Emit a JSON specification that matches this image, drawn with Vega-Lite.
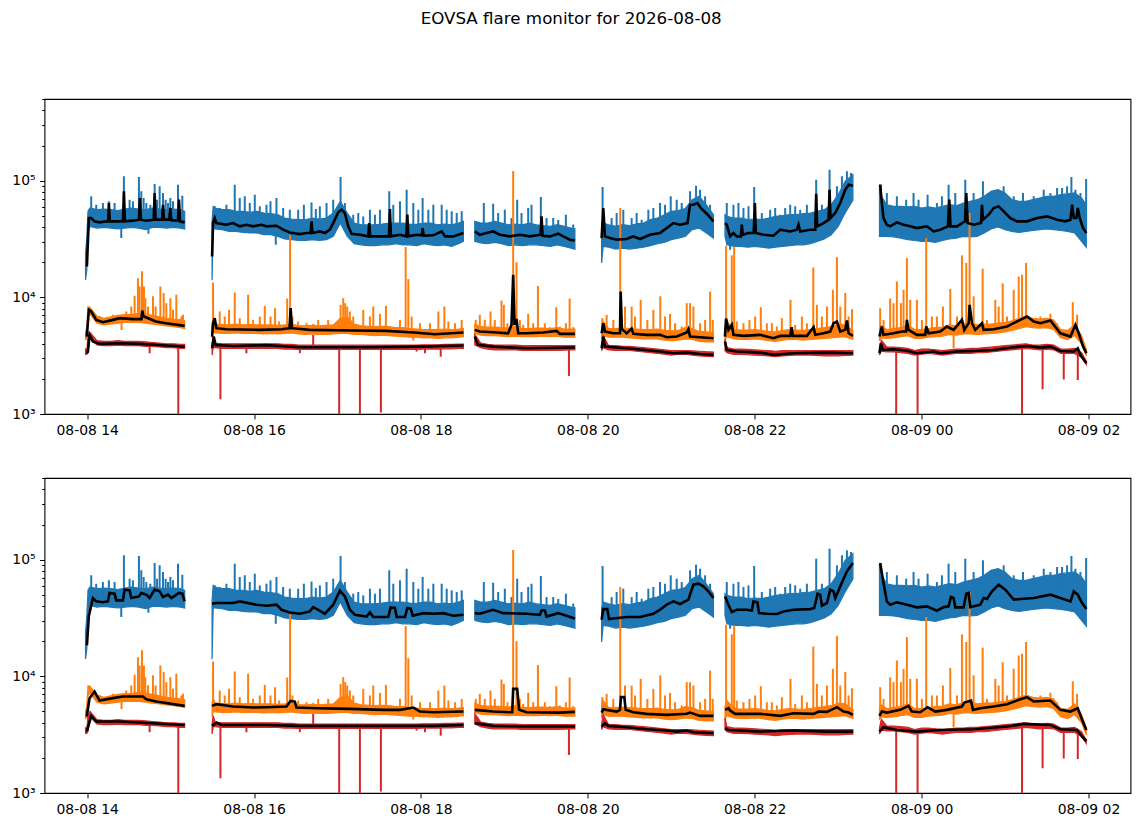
{
  "$schema": "https://vega.github.io/schema/vega-lite/v6.json",
  "padding": {"left": 10.5, "top": 10, "right": 10, "bottom": 5},
  "title": {"text": "EOVSA flare monitor for 2026-08-08", "font": "DejaVu Sans", "fontSize": 16.7, "fontWeight": "normal", "color": "black", "anchor": "middle", "frame": "bounds", "offset": 64},
  "config": {"view": {"stroke": "black", "strokeWidth": 1.1}, "font": "DejaVu Sans"},
  "spacing": 31,
  "datasets": {
    "band": [
      {"t":-1.2,"g":1,"bl":14100,"bh":24000,"ol":4300,"oh":5000,"rl":3250,"rh":3600},
      {"t":-0.3,"g":1,"bl":17000,"bh":32000,"ol":4500,"oh":5500,"rl":3250,"rh":3500},
      {"t":0.6,"g":1,"bl":36000,"bh":55000,"ol":6800,"oh":8300,"rl":3400,"rh":4600},
      {"t":2,"g":1,"bl":40600,"bh":58300,"ol":7200,"oh":8200,"rl":4500,"rh":5000},
      {"t":7,"g":1,"bl":39200,"bh":56400,"ol":6000,"oh":6900,"rl":3900,"rh":4250},
      {"t":12,"g":1,"bl":39800,"bh":57100,"ol":5800,"oh":6600,"rl":3850,"rh":4200},
      {"t":17,"g":1,"bl":39200,"bh":56400,"ol":5900,"oh":6800,"rl":3850,"rh":4200},
      {"t":22,"g":1,"bl":38500,"bh":55300,"ol":6000,"oh":7000,"rl":3900,"rh":4250},
      {"t":27,"g":1,"bl":39200,"bh":57100,"ol":6100,"oh":7100,"rl":3850,"rh":4200},
      {"t":32,"g":1,"bl":39800,"bh":58300,"ol":6100,"oh":7100,"rl":3850,"rh":4200},
      {"t":37,"g":1,"bl":39200,"bh":57100,"ol":6100,"oh":7300,"rl":3850,"rh":4200},
      {"t":42,"g":1,"bl":38000,"bh":56400,"ol":6000,"oh":7200,"rl":3800,"rh":4150},
      {"t":47,"g":1,"bl":39800,"bh":58300,"ol":5900,"oh":7000,"rl":3800,"rh":4100},
      {"t":52,"g":1,"bl":39800,"bh":57100,"ol":5800,"oh":6800,"rl":3750,"rh":4050},
      {"t":57,"g":1,"bl":39200,"bh":56400,"ol":5700,"oh":6600,"rl":3700,"rh":4000},
      {"t":62,"g":1,"bl":39800,"bh":57100,"ol":5600,"oh":6500,"rl":3700,"rh":4000},
      {"t":67,"g":1,"bl":39200,"bh":56400,"ol":5500,"oh":6400,"rl":3650,"rh":3950},
      {"t":70.1,"g":1,"bl":38500,"bh":54600,"ol":5400,"oh":6300,"rl":3650,"rh":3950},
      {"t":89.8,"g":2,"bl":14000,"bh":45000,"ol":4500,"oh":6000,"rl":3200,"rh":3900},
      {"t":90.6,"g":2,"bl":38500,"bh":60200,"ol":5000,"oh":6500,"rl":3700,"rh":4600},
      {"t":92,"g":2,"bl":38500,"bh":58300,"ol":4950,"oh":5900,"rl":3700,"rh":4050},
      {"t":97,"g":2,"bl":38000,"bh":56400,"ol":4900,"oh":5850,"rl":3650,"rh":4000},
      {"t":102,"g":2,"bl":36700,"bh":56400,"ol":4900,"oh":5800,"rl":3650,"rh":4000},
      {"t":107,"g":2,"bl":36700,"bh":54600,"ol":4950,"oh":5900,"rl":3650,"rh":4000},
      {"t":112,"g":2,"bl":36000,"bh":54600,"ol":4900,"oh":5800,"rl":3650,"rh":4000},
      {"t":117,"g":2,"bl":35600,"bh":53500,"ol":4900,"oh":5850,"rl":3650,"rh":4000},
      {"t":122,"g":2,"bl":35600,"bh":54600,"ol":4900,"oh":5800,"rl":3650,"rh":4000},
      {"t":127,"g":2,"bl":34400,"bh":52800,"ol":4850,"oh":5800,"rl":3650,"rh":4000},
      {"t":132,"g":2,"bl":34400,"bh":52100,"ol":4900,"oh":5800,"rl":3650,"rh":4000},
      {"t":137,"g":2,"bl":33300,"bh":51100,"ol":4850,"oh":5750,"rl":3650,"rh":4000},
      {"t":142,"g":2,"bl":31600,"bh":47800,"ol":4900,"oh":5800,"rl":3600,"rh":3950},
      {"t":147,"g":2,"bl":31200,"bh":46900,"ol":4950,"oh":5900,"rl":3600,"rh":3950},
      {"t":152,"g":2,"bl":30700,"bh":46300,"ol":4850,"oh":5700,"rl":3580,"rh":3900},
      {"t":157,"g":2,"bl":30700,"bh":46300,"ol":4800,"oh":5700,"rl":3580,"rh":3900},
      {"t":162,"g":2,"bl":31200,"bh":47800,"ol":4850,"oh":5750,"rl":3580,"rh":3900},
      {"t":167,"g":2,"bl":30700,"bh":46900,"ol":4800,"oh":5700,"rl":3580,"rh":3900},
      {"t":172,"g":2,"bl":31200,"bh":47800,"ol":4800,"oh":5750,"rl":3580,"rh":3900},
      {"t":177,"g":2,"bl":33300,"bh":52800,"ol":4850,"oh":5800,"rl":3580,"rh":3900},
      {"t":182,"g":2,"bl":43300,"bh":66500,"ol":4900,"oh":6600,"rl":3580,"rh":3900},
      {"t":187,"g":2,"bl":33300,"bh":52800,"ol":4900,"oh":6800,"rl":3580,"rh":3900},
      {"t":192,"g":2,"bl":28800,"bh":43300,"ol":4800,"oh":5900,"rl":3580,"rh":3900},
      {"t":197,"g":2,"bl":28200,"bh":41900,"ol":4800,"oh":5700,"rl":3580,"rh":3900},
      {"t":202,"g":2,"bl":27700,"bh":41900,"ol":4750,"oh":5650,"rl":3580,"rh":3900},
      {"t":207,"g":2,"bl":27700,"bh":41900,"ol":4700,"oh":5600,"rl":3580,"rh":3900},
      {"t":212,"g":2,"bl":28200,"bh":42500,"ol":4750,"oh":5650,"rl":3580,"rh":3900},
      {"t":217,"g":2,"bl":28200,"bh":43300,"ol":4700,"oh":5600,"rl":3580,"rh":3900},
      {"t":222,"g":2,"bl":28800,"bh":43300,"ol":4650,"oh":5500,"rl":3580,"rh":3900},
      {"t":227,"g":2,"bl":28200,"bh":43300,"ol":4600,"oh":5500,"rl":3580,"rh":3900},
      {"t":232,"g":2,"bl":28200,"bh":42500,"ol":4550,"oh":5400,"rl":3580,"rh":3900},
      {"t":237,"g":2,"bl":27700,"bh":42200,"ol":4550,"oh":5350,"rl":3580,"rh":3900},
      {"t":242,"g":2,"bl":28800,"bh":43300,"ol":4500,"oh":5300,"rl":3600,"rh":3920},
      {"t":247,"g":2,"bl":28200,"bh":43300,"ol":4500,"oh":5300,"rl":3600,"rh":3920},
      {"t":252,"g":2,"bl":27700,"bh":41900,"ol":4450,"oh":5300,"rl":3600,"rh":3920},
      {"t":257,"g":2,"bl":28200,"bh":42500,"ol":4500,"oh":5350,"rl":3620,"rh":3950},
      {"t":262,"g":2,"bl":27300,"bh":41900,"ol":4500,"oh":5300,"rl":3620,"rh":3950},
      {"t":267,"g":2,"bl":28800,"bh":43300,"ol":4550,"oh":5350,"rl":3650,"rh":3980},
      {"t":270.5,"g":2,"bl":30200,"bh":44800,"ol":4600,"oh":5400,"rl":3650,"rh":3980},
      {"t":278.7,"g":3,"bl":30200,"bh":44800,"ol":4900,"oh":5900,"rl":3900,"rh":4800},
      {"t":283,"g":3,"bl":29200,"bh":43300,"ol":4750,"oh":5600,"rl":3700,"rh":4050},
      {"t":288,"g":3,"bl":28800,"bh":43300,"ol":4700,"oh":5550,"rl":3600,"rh":3950},
      {"t":293,"g":3,"bl":29600,"bh":44800,"ol":4700,"oh":5550,"rl":3550,"rh":3900},
      {"t":298,"g":3,"bl":28800,"bh":43300,"ol":4650,"oh":5500,"rl":3550,"rh":3900},
      {"t":303,"g":3,"bl":27700,"bh":41900,"ol":4600,"oh":5450,"rl":3550,"rh":3900},
      {"t":308,"g":3,"bl":28200,"bh":42500,"ol":4650,"oh":5600,"rl":3550,"rh":3900},
      {"t":313,"g":3,"bl":27700,"bh":41900,"ol":4600,"oh":5400,"rl":3500,"rh":3850},
      {"t":318,"g":3,"bl":28200,"bh":43300,"ol":4600,"oh":5400,"rl":3500,"rh":3850},
      {"t":323,"g":3,"bl":28200,"bh":41900,"ol":4600,"oh":5450,"rl":3500,"rh":3850},
      {"t":328,"g":3,"bl":27700,"bh":41100,"ol":4650,"oh":5450,"rl":3500,"rh":3850},
      {"t":333,"g":3,"bl":27300,"bh":40600,"ol":4600,"oh":5400,"rl":3500,"rh":3850},
      {"t":338,"g":3,"bl":28200,"bh":41900,"ol":4650,"oh":5500,"rl":3500,"rh":3850},
      {"t":343,"g":3,"bl":27300,"bh":40600,"ol":4550,"oh":5350,"rl":3520,"rh":3850},
      {"t":348,"g":3,"bl":26400,"bh":39200,"ol":4550,"oh":5350,"rl":3550,"rh":3850},
      {"t":350.7,"g":3,"bl":25900,"bh":38700,"ol":4550,"oh":5350,"rl":3550,"rh":3850},
      {"t":369.9,"g":4,"bl":19700,"bh":38000,"ol":4500,"oh":5700,"rl":3500,"rh":3900},
      {"t":371,"g":4,"bl":27300,"bh":43300,"ol":4700,"oh":6200,"rl":3700,"rh":4700},
      {"t":375,"g":4,"bl":26900,"bh":41900,"ol":4550,"oh":5400,"rl":3550,"rh":3850},
      {"t":380,"g":4,"bl":25900,"bh":40600,"ol":4550,"oh":5400,"rl":3500,"rh":3850},
      {"t":385,"g":4,"bl":26400,"bh":41900,"ol":4550,"oh":5450,"rl":3500,"rh":3800},
      {"t":390,"g":4,"bl":25900,"bh":41100,"ol":4500,"oh":5400,"rl":3500,"rh":3800},
      {"t":395,"g":4,"bl":26400,"bh":42700,"ol":4450,"oh":5350,"rl":3450,"rh":3750},
      {"t":400,"g":4,"bl":26900,"bh":43300,"ol":4400,"oh":5300,"rl":3400,"rh":3700},
      {"t":405,"g":4,"bl":27700,"bh":46300,"ol":4400,"oh":5300,"rl":3350,"rh":3650},
      {"t":410,"g":4,"bl":28800,"bh":47800,"ol":4400,"oh":5350,"rl":3300,"rh":3600},
      {"t":415,"g":4,"bl":29600,"bh":51100,"ol":4300,"oh":5200,"rl":3250,"rh":3550},
      {"t":420,"g":4,"bl":31200,"bh":54600,"ol":4250,"oh":5150,"rl":3200,"rh":3500},
      {"t":425,"g":4,"bl":32200,"bh":55300,"ol":4300,"oh":5200,"rl":3250,"rh":3500},
      {"t":430,"g":4,"bl":33300,"bh":57700,"ol":4400,"oh":5500,"rl":3250,"rh":3500},
      {"t":435,"g":4,"bl":38000,"bh":68700,"ol":4350,"oh":5400,"rl":3200,"rh":3480},
      {"t":440,"g":4,"bl":39200,"bh":73400,"ol":4200,"oh":5100,"rl":3150,"rh":3450},
      {"t":445,"g":4,"bl":35800,"bh":62200,"ol":4150,"oh":5050,"rl":3120,"rh":3420},
      {"t":450.3,"g":4,"bl":32200,"bh":51100,"ol":4150,"oh":5000,"rl":3100,"rh":3400},
      {"t":458.6,"g":5,"bl":33300,"bh":51100,"ol":4300,"oh":5500,"rl":3500,"rh":4400},
      {"t":460,"g":5,"bl":28200,"bh":49400,"ol":4600,"oh":6200,"rl":3350,"rh":3700},
      {"t":465,"g":5,"bl":27300,"bh":47800,"ol":4400,"oh":5300,"rl":3250,"rh":3600},
      {"t":470,"g":5,"bl":27300,"bh":47800,"ol":4350,"oh":5250,"rl":3250,"rh":3600},
      {"t":475,"g":5,"bl":26900,"bh":46300,"ol":4350,"oh":5250,"rl":3220,"rh":3580},
      {"t":480,"g":5,"bl":27300,"bh":46900,"ol":4400,"oh":5300,"rl":3200,"rh":3550},
      {"t":485,"g":5,"bl":26900,"bh":46300,"ol":4350,"oh":5200,"rl":3180,"rh":3520},
      {"t":490,"g":5,"bl":26400,"bh":47800,"ol":4250,"oh":5100,"rl":3150,"rh":3500},
      {"t":495,"g":5,"bl":26900,"bh":49400,"ol":4200,"oh":5050,"rl":3100,"rh":3450},
      {"t":500,"g":5,"bl":27300,"bh":50100,"ol":4300,"oh":5200,"rl":3150,"rh":3500},
      {"t":505,"g":5,"bl":27700,"bh":51100,"ol":4350,"oh":5300,"rl":3180,"rh":3500},
      {"t":510,"g":5,"bl":28200,"bh":51100,"ol":4350,"oh":5250,"rl":3200,"rh":3500},
      {"t":515,"g":5,"bl":28200,"bh":52100,"ol":4300,"oh":5200,"rl":3200,"rh":3500},
      {"t":520,"g":5,"bl":28800,"bh":52800,"ol":4350,"oh":5300,"rl":3200,"rh":3500},
      {"t":525,"g":5,"bl":30200,"bh":54600,"ol":4400,"oh":5400,"rl":3180,"rh":3500},
      {"t":530,"g":5,"bl":31600,"bh":56400,"ol":4450,"oh":5500,"rl":3150,"rh":3500},
      {"t":535,"g":5,"bl":34400,"bh":62200,"ol":4500,"oh":5600,"rl":3150,"rh":3500},
      {"t":540,"g":5,"bl":40600,"bh":75800,"ol":4550,"oh":5900,"rl":3150,"rh":3500},
      {"t":545,"g":5,"bl":52800,"bh":98700,"ol":4600,"oh":5800,"rl":3180,"rh":3500},
      {"t":550.6,"g":5,"bl":68000,"bh":112600,"ol":4350,"oh":5200,"rl":3200,"rh":3500},
      {"t":569.7,"g":6,"bl":33300,"bh":92400,"ol":4300,"oh":5300,"rl":3200,"rh":3600},
      {"t":571,"g":6,"bl":33300,"bh":73400,"ol":4500,"oh":5700,"rl":3450,"rh":4300},
      {"t":575,"g":6,"bl":33300,"bh":62200,"ol":4450,"oh":5300,"rl":3400,"rh":3750},
      {"t":580,"g":6,"bl":32900,"bh":60200,"ol":4500,"oh":5400,"rl":3400,"rh":3750},
      {"t":585,"g":6,"bl":32200,"bh":60200,"ol":4600,"oh":5500,"rl":3350,"rh":3700},
      {"t":590,"g":6,"bl":31200,"bh":59600,"ol":4700,"oh":5800,"rl":3300,"rh":3650},
      {"t":595,"g":6,"bl":30700,"bh":60200,"ol":4450,"oh":5300,"rl":3200,"rh":3500},
      {"t":600,"g":6,"bl":30200,"bh":58300,"ol":4450,"oh":5300,"rl":3250,"rh":3600},
      {"t":605,"g":6,"bl":30200,"bh":59600,"ol":4550,"oh":5400,"rl":3300,"rh":3600},
      {"t":610,"g":6,"bl":29600,"bh":58300,"ol":4600,"oh":5500,"rl":3250,"rh":3550},
      {"t":615,"g":6,"bl":30700,"bh":60200,"ol":4650,"oh":5550,"rl":3200,"rh":3500},
      {"t":620,"g":6,"bl":31600,"bh":62200,"ol":4800,"oh":5800,"rl":3250,"rh":3550},
      {"t":625,"g":6,"bl":32200,"bh":61000,"ol":4750,"oh":5700,"rl":3300,"rh":3600},
      {"t":630,"g":6,"bl":33300,"bh":64300,"ol":4850,"oh":5950,"rl":3300,"rh":3600},
      {"t":635,"g":6,"bl":32900,"bh":66500,"ol":4850,"oh":6000,"rl":3300,"rh":3650},
      {"t":640,"g":6,"bl":33300,"bh":68700,"ol":4800,"oh":5800,"rl":3350,"rh":3650},
      {"t":645,"g":6,"bl":35600,"bh":73400,"ol":4850,"oh":5900,"rl":3350,"rh":3700},
      {"t":650,"g":6,"bl":38500,"bh":81000,"ol":4900,"oh":5900,"rl":3400,"rh":3750},
      {"t":655,"g":6,"bl":40100,"bh":83700,"ol":4950,"oh":6000,"rl":3450,"rh":3800},
      {"t":660,"g":6,"bl":38000,"bh":78400,"ol":5050,"oh":6100,"rl":3500,"rh":3850},
      {"t":665,"g":6,"bl":36700,"bh":68700,"ol":5200,"oh":6300,"rl":3550,"rh":3900},
      {"t":670,"g":6,"bl":36000,"bh":66500,"ol":5400,"oh":6600,"rl":3600,"rh":3950},
      {"t":675,"g":6,"bl":36700,"bh":66500,"ol":5600,"oh":6900,"rl":3650,"rh":4000},
      {"t":680,"g":6,"bl":37400,"bh":68700,"ol":5500,"oh":6600,"rl":3600,"rh":3900},
      {"t":685,"g":6,"bl":38000,"bh":71000,"ol":5450,"oh":6500,"rl":3550,"rh":3900},
      {"t":690,"g":6,"bl":38500,"bh":73400,"ol":5500,"oh":6600,"rl":3600,"rh":3950},
      {"t":695,"g":6,"bl":38000,"bh":73400,"ol":5300,"oh":6400,"rl":3550,"rh":3900},
      {"t":700,"g":6,"bl":37400,"bh":75800,"ol":4500,"oh":5300,"rl":3300,"rh":3600},
      {"t":705,"g":6,"bl":36700,"bh":77000,"ol":4350,"oh":5200,"rl":3300,"rh":3600},
      {"t":710,"g":6,"bl":35600,"bh":78400,"ol":4700,"oh":5800,"rl":3300,"rh":3650},
      {"t":715,"g":6,"bl":30200,"bh":71000,"ol":4000,"oh":4700,"rl":3050,"rh":3350},
      {"t":718.4,"g":6,"bl":26900,"bh":62200,"ol":3150,"oh":3600,"rl":2650,"rh":2850}
    ],
    "spk": [
      {"t":2.9,"s":"b","a":48000,"p":73400},{"t":6.5,"s":"b","a":48000,"p":62200},{"t":11.3,"s":"b","a":48000,"p":64300},
      {"t":15.6,"s":"b","a":48000,"p":66500},{"t":19.7,"s":"b","a":48000,"p":64300},{"t":26.4,"s":"b","a":48000,"p":109000},
      {"t":30.5,"s":"b","a":48000,"p":68700},{"t":32.9,"s":"b","a":48000,"p":66500},{"t":37.2,"s":"b","a":48000,"p":107500},
      {"t":38.9,"s":"b","a":48000,"p":81000},{"t":40.6,"s":"b","a":48000,"p":71000},{"t":42.5,"s":"b","a":48000,"p":64300},
      {"t":45.4,"s":"b","a":48000,"p":62200},{"t":48.5,"s":"b","a":48000,"p":93600},{"t":50.2,"s":"b","a":48000,"p":68700},
      {"t":52.1,"s":"b","a":48000,"p":89400},{"t":54.5,"s":"b","a":48000,"p":78400},{"t":56.4,"s":"b","a":48000,"p":68700},
      {"t":58.1,"s":"b","a":48000,"p":64300},{"t":59.8,"s":"b","a":48000,"p":71000},{"t":61.7,"s":"b","a":48000,"p":66500},
      {"t":65.3,"s":"b","a":48000,"p":92400},{"t":68.4,"s":"b","a":48000,"p":74300},
      {"t":24.5,"s":"b","a":40000,"p":32200},{"t":44,"s":"b","a":40000,"p":35100},
      {"t":91.7,"s":"b","a":46000,"p":60200},{"t":95.3,"s":"b","a":46000,"p":58300},{"t":100.1,"s":"b","a":46000,"p":62200},
      {"t":106.1,"s":"b","a":46000,"p":92400},{"t":109.7,"s":"b","a":46000,"p":71000},{"t":113.3,"s":"b","a":46000,"p":73400},
      {"t":116.9,"s":"b","a":46000,"p":64300},{"t":120.5,"s":"b","a":46000,"p":75800},{"t":124.1,"s":"b","a":46000,"p":60200},
      {"t":128.9,"s":"b","a":46000,"p":62200},{"t":131.8,"s":"b","a":46000,"p":66500},{"t":136.1,"s":"b","a":46000,"p":71000},
      {"t":140.9,"s":"b","a":40000,"p":58300},{"t":145.7,"s":"b","a":38000,"p":56400},{"t":151.7,"s":"b","a":38000,"p":56400},
      {"t":155.8,"s":"b","a":38000,"p":62200},{"t":161.3,"s":"b","a":38000,"p":65000},{"t":164.4,"s":"b","a":38000,"p":57100},
      {"t":167.3,"s":"b","a":38000,"p":60200},{"t":172.1,"s":"b","a":38000,"p":64300},{"t":176.9,"s":"b","a":40000,"p":68700},
      {"t":182.2,"s":"b","a":55000,"p":107500},{"t":185.3,"s":"b","a":50000,"p":64300},{"t":191.3,"s":"b","a":36000,"p":51100},
      {"t":194.9,"s":"b","a":36000,"p":52800},{"t":198.5,"s":"b","a":36000,"p":49400},{"t":203.3,"s":"b","a":36000,"p":56400},
      {"t":206.9,"s":"b","a":36000,"p":51100},{"t":210.5,"s":"b","a":36000,"p":56400},{"t":217.2,"s":"b","a":36000,"p":81000},
      {"t":220.1,"s":"b","a":36000,"p":62200},{"t":224.9,"s":"b","a":36000,"p":66500},{"t":229.7,"s":"b","a":36000,"p":83700},
      {"t":234.5,"s":"b","a":36000,"p":64300},{"t":238.1,"s":"b","a":36000,"p":56400},{"t":241.2,"s":"b","a":36000,"p":71000},
      {"t":245.3,"s":"b","a":36000,"p":56400},{"t":248.9,"s":"b","a":36000,"p":62200},{"t":254.9,"s":"b","a":36000,"p":62200},
      {"t":258.5,"s":"b","a":36000,"p":56400},{"t":262.1,"s":"b","a":36000,"p":54600},{"t":265.7,"s":"b","a":36000,"p":52800},
      {"t":269.3,"s":"b","a":36000,"p":54600},{"t":135.6,"s":"b","a":36000,"p":28200},
      {"t":285.2,"s":"b","a":36000,"p":64300},{"t":291.9,"s":"b","a":36000,"p":63500},{"t":295.5,"s":"b","a":36000,"p":52800},
      {"t":300.3,"s":"b","a":36000,"p":56400},{"t":305.1,"s":"b","a":36000,"p":47800},{"t":309.2,"s":"b","a":36000,"p":68700},
      {"t":312.3,"s":"b","a":36000,"p":52800},{"t":317.1,"s":"b","a":36000,"p":58300},{"t":319.5,"s":"b","a":36000,"p":62200},
      {"t":326.2,"s":"b","a":36000,"p":72400},{"t":330.3,"s":"b","a":36000,"p":47800},{"t":335.1,"s":"b","a":36000,"p":47800},
      {"t":338.7,"s":"b","a":36000,"p":46000},{"t":344.2,"s":"b","a":36000,"p":51100},{"t":349.5,"s":"b","a":33000,"p":42000},
      {"t":370.6,"s":"b","a":33000,"p":88200},{"t":377.1,"s":"b","a":33000,"p":47800},{"t":380.7,"s":"b","a":33000,"p":52800},
      {"t":385.5,"s":"b","a":33000,"p":56400},{"t":391.5,"s":"b","a":33000,"p":47800},{"t":395.1,"s":"b","a":33000,"p":52800},
      {"t":398.7,"s":"b","a":33000,"p":46300},{"t":403.5,"s":"b","a":33000,"p":56400},{"t":407.1,"s":"b","a":33000,"p":58300},
      {"t":411.9,"s":"b","a":36000,"p":64300},{"t":415.5,"s":"b","a":38000,"p":62200},{"t":419.6,"s":"b","a":42000,"p":73400},
      {"t":423.9,"s":"b","a":42000,"p":68700},{"t":427.5,"s":"b","a":42000,"p":64300},{"t":433.5,"s":"b","a":50000,"p":81000},
      {"t":437.8,"s":"b","a":50000,"p":90600},{"t":440.7,"s":"b","a":50000,"p":83700},{"t":444.3,"s":"b","a":48000,"p":73400},
      {"t":447.9,"s":"b","a":42000,"p":62200},
      {"t":459.9,"s":"b","a":36000,"p":64300},{"t":464.7,"s":"b","a":36000,"p":62200},{"t":468.3,"s":"b","a":36000,"p":64300},
      {"t":471.9,"s":"b","a":36000,"p":58300},{"t":475.5,"s":"b","a":36000,"p":60200},{"t":479.6,"s":"b","a":36000,"p":88200},
      {"t":485.1,"s":"b","a":36000,"p":52800},{"t":491.1,"s":"b","a":36000,"p":56400},{"t":494.7,"s":"b","a":36000,"p":58300},
      {"t":498.3,"s":"b","a":36000,"p":51100},{"t":501.9,"s":"b","a":36000,"p":58300},{"t":505.5,"s":"b","a":36000,"p":62200},
      {"t":509.1,"s":"b","a":36000,"p":60200},{"t":512.7,"s":"b","a":36000,"p":56400},{"t":517.5,"s":"b","a":36000,"p":62200},
      {"t":524.2,"s":"b","a":40000,"p":102000},{"t":528.3,"s":"b","a":42000,"p":62200},{"t":533.8,"s":"b","a":46000,"p":124300},
      {"t":539.1,"s":"b","a":60000,"p":89400},{"t":542.7,"s":"b","a":65000,"p":109000},{"t":546.3,"s":"b","a":80000,"p":120300},
      {"t":549.2,"s":"b","a":88000,"p":116400},{"t":462.3,"s":"b","a":32000,"p":25600},
      {"t":570.7,"s":"b","a":44000,"p":92400},{"t":575.0,"s":"b","a":44000,"p":78400},{"t":582.2,"s":"b","a":44000,"p":73400},
      {"t":588.9,"s":"b","a":44000,"p":68700},{"t":594.2,"s":"b","a":44000,"p":78400},{"t":597.8,"s":"b","a":44000,"p":68700},
      {"t":604.3,"s":"b","a":44000,"p":75800},{"t":611.0,"s":"b","a":44000,"p":64300},{"t":614.6,"s":"b","a":44000,"p":73400},
      {"t":619.4,"s":"b","a":44000,"p":92400},{"t":624.2,"s":"b","a":44000,"p":78400},{"t":631.4,"s":"b","a":44000,"p":102000},
      {"t":637.4,"s":"b","a":44000,"p":78400},{"t":644.1,"s":"b","a":44000,"p":98700},{"t":648.2,"s":"b","a":48000,"p":78400},
      {"t":654.2,"s":"b","a":55000,"p":83700},{"t":659.0,"s":"b","a":55000,"p":89400},{"t":666.2,"s":"b","a":46000,"p":73400},
      {"t":672.9,"s":"b","a":46000,"p":78400},{"t":680.6,"s":"b","a":46000,"p":73400},{"t":687.8,"s":"b","a":46000,"p":83700},
      {"t":692.6,"s":"b","a":46000,"p":78400},{"t":697.4,"s":"b","a":46000,"p":86500},{"t":701.0,"s":"b","a":46000,"p":86500},
      {"t":704.6,"s":"b","a":46000,"p":89400},{"t":707.7,"s":"b","a":46000,"p":107500},{"t":710.6,"s":"b","a":46000,"p":83700},
      {"t":714.2,"s":"b","a":44000,"p":78400},{"t":718.3,"s":"b","a":38000,"p":103400},
      {"t":8.9,"s":"o","a":6300,"p":6850},{"t":18.5,"s":"o","a":6300,"p":7080},{"t":28.1,"s":"o","a":6300,"p":7560},
      {"t":31.7,"s":"o","a":6300,"p":8340},{"t":34.1,"s":"o","a":6300,"p":10300},{"t":36.5,"s":"o","a":6300,"p":14600},
      {"t":37.7,"s":"o","a":6300,"p":12400},{"t":39.4,"s":"o","a":6300,"p":16700},{"t":40.8,"s":"o","a":6300,"p":12400},
      {"t":41.8,"s":"o","a":6300,"p":9840},{"t":43.7,"s":"o","a":6300,"p":8340},{"t":47.3,"s":"o","a":6300,"p":10200},
      {"t":49.2,"s":"o","a":6300,"p":8340},{"t":52.6,"s":"o","a":6100,"p":12400},{"t":55.0,"s":"o","a":6100,"p":10900},
      {"t":56.9,"s":"o","a":6000,"p":8910},{"t":59.8,"s":"o","a":6000,"p":9840},{"t":61.7,"s":"o","a":6000,"p":7810},
      {"t":64.1,"s":"o","a":6000,"p":10500},{"t":67.7,"s":"o","a":5800,"p":6850},{"t":68.9,"s":"o","a":5800,"p":7080},
      {"t":24.7,"s":"o","a":6200,"p":5260},
      {"t":90.5,"s":"o","a":5500,"p":13400},{"t":95.3,"s":"o","a":5400,"p":7560},{"t":98.9,"s":"o","a":5400,"p":6850},
      {"t":102.0,"s":"o","a":5400,"p":7810},{"t":106.1,"s":"o","a":5400,"p":11000},{"t":109.7,"s":"o","a":5400,"p":6630},
      {"t":115.7,"s":"o","a":5400,"p":10500},{"t":119.3,"s":"o","a":5400,"p":6410},{"t":124.1,"s":"o","a":5400,"p":6850},
      {"t":127.7,"s":"o","a":5400,"p":8450},{"t":131.8,"s":"o","a":5400,"p":6850},{"t":135.1,"s":"o","a":5400,"p":8070},
      {"t":138.0,"s":"o","a":5400,"p":6200},{"t":143.8,"s":"o","a":5400,"p":9770},{"t":145.9,"s":"o","a":5400,"p":34000},
      {"t":147.6,"s":"o","a":5400,"p":6850},{"t":151.7,"s":"o","a":5300,"p":6200},{"t":157.7,"s":"o","a":5300,"p":6000},
      {"t":162.5,"s":"o","a":5300,"p":5920},{"t":166.1,"s":"o","a":5300,"p":6410},{"t":173.3,"s":"o","a":5300,"p":6410},
      {"t":182.2,"s":"o","a":5300,"p":8620},{"t":184.1,"s":"o","a":5300,"p":9840},{"t":185.5,"s":"o","a":5300,"p":8910},
      {"t":187.0,"s":"o","a":5300,"p":8340},{"t":188.9,"s":"o","a":5300,"p":7560},{"t":191.3,"s":"o","a":5200,"p":6850},
      {"t":198.5,"s":"o","a":5200,"p":7810},{"t":203.3,"s":"o","a":5100,"p":6850},{"t":205.7,"s":"o","a":5100,"p":8340},
      {"t":210.5,"s":"o","a":5100,"p":7220},{"t":214.8,"s":"o","a":5100,"p":8450},{"t":224.9,"s":"o","a":5000,"p":6410},
      {"t":229.0,"s":"o","a":5000,"p":27000},{"t":230.9,"s":"o","a":5000,"p":14300},{"t":233.3,"s":"o","a":5000,"p":6850},
      {"t":239.3,"s":"o","a":4900,"p":6000},{"t":246.5,"s":"o","a":4900,"p":6000},{"t":252.5,"s":"o","a":4900,"p":7560},
      {"t":256.8,"s":"o","a":4900,"p":8340},{"t":259.7,"s":"o","a":4900,"p":6200},{"t":264.5,"s":"o","a":4900,"p":6000},
      {"t":269.3,"s":"o","a":4900,"p":6410},{"t":234.5,"s":"o","a":4800,"p":4260},
      {"t":279.4,"s":"o","a":5000,"p":6410},{"t":282.3,"s":"o","a":5000,"p":7080},{"t":285.9,"s":"o","a":5000,"p":6410},
      {"t":290.0,"s":"o","a":5000,"p":7560},{"t":293.1,"s":"o","a":5000,"p":6410},{"t":297.9,"s":"o","a":5000,"p":9390},
      {"t":299.6,"s":"o","a":5000,"p":8620},{"t":302.2,"s":"o","a":5000,"p":6000},{"t":306.3,"s":"o","a":5000,"p":121000},
      {"t":308.7,"s":"o","a":5000,"p":20000},{"t":311.1,"s":"o","a":5000,"p":6410},{"t":313.5,"s":"o","a":5000,"p":5810},
      {"t":317.1,"s":"o","a":5000,"p":7220},{"t":320.7,"s":"o","a":5000,"p":6000},{"t":324.1,"s":"o","a":5000,"p":12500},
      {"t":329.1,"s":"o","a":5000,"p":6000},{"t":332.7,"s":"o","a":5000,"p":5550},{"t":337.3,"s":"o","a":5000,"p":8230},
      {"t":339.9,"s":"o","a":5000,"p":5620},{"t":344.2,"s":"o","a":5000,"p":6000},{"t":346.9,"s":"o","a":5000,"p":9770},
      {"t":349.5,"s":"o","a":5000,"p":5550},
      {"t":370.4,"s":"o","a":4800,"p":6630},{"t":373.5,"s":"o","a":4800,"p":7080},{"t":378.3,"s":"o","a":4800,"p":6410},
      {"t":383.3,"s":"o","a":4800,"p":58300},{"t":386.7,"s":"o","a":4800,"p":8340},{"t":391.5,"s":"o","a":4800,"p":8340},
      {"t":393.9,"s":"o","a":4800,"p":6850},{"t":398.0,"s":"o","a":4800,"p":9520},{"t":402.8,"s":"o","a":4800,"p":6410},
      {"t":407.1,"s":"o","a":4800,"p":7810},{"t":412.1,"s":"o","a":4800,"p":10200},{"t":415.5,"s":"o","a":4700,"p":6850},
      {"t":419.1,"s":"o","a":4700,"p":7220},{"t":422.7,"s":"o","a":4700,"p":6000},{"t":427.5,"s":"o","a":4700,"p":5620},
      {"t":431.1,"s":"o","a":4700,"p":8910},{"t":433.5,"s":"o","a":4700,"p":8910},{"t":435.9,"s":"o","a":4700,"p":8340},
      {"t":440.7,"s":"o","a":4600,"p":6000},{"t":444.3,"s":"o","a":4600,"p":6410},{"t":447.9,"s":"o","a":4600,"p":11200},
      {"t":449.8,"s":"o","a":4600,"p":6410},
      {"t":459.4,"s":"o","a":4800,"p":27700},{"t":463.5,"s":"o","a":4800,"p":22900},{"t":465.2,"s":"o","a":4800,"p":27300},
      {"t":467.1,"s":"o","a":4800,"p":6200},{"t":471.9,"s":"o","a":4800,"p":6000},{"t":476.2,"s":"o","a":4800,"p":6410},
      {"t":480.3,"s":"o","a":4800,"p":6850},{"t":484.4,"s":"o","a":4800,"p":8230},{"t":488.7,"s":"o","a":4700,"p":6000},
      {"t":492.3,"s":"o","a":4700,"p":6000},{"t":495.9,"s":"o","a":4700,"p":5620},{"t":499.5,"s":"o","a":4700,"p":6630},
      {"t":505.7,"s":"o","a":4800,"p":9520},{"t":509.1,"s":"o","a":4800,"p":5810},{"t":513.9,"s":"o","a":4800,"p":6850},
      {"t":517.5,"s":"o","a":4800,"p":6000},{"t":522.1,"s":"o","a":4800,"p":18000},{"t":524.7,"s":"o","a":4800,"p":8620},
      {"t":528.3,"s":"o","a":4900,"p":6850},{"t":531.9,"s":"o","a":4900,"p":8340},{"t":536.2,"s":"o","a":5000,"p":11600},
      {"t":539.1,"s":"o","a":5000,"p":22100},{"t":541.5,"s":"o","a":5000,"p":8340},{"t":545.1,"s":"o","a":5000,"p":10900},
      {"t":547.5,"s":"o","a":4800,"p":6850},{"t":549.9,"s":"o","a":4700,"p":7910},
      {"t":570.2,"s":"o","a":5000,"p":8070},{"t":572.6,"s":"o","a":5000,"p":6410},{"t":577.4,"s":"o","a":5000,"p":9770},
      {"t":579.8,"s":"o","a":5000,"p":8910},{"t":582.2,"s":"o","a":5000,"p":13700},{"t":585.1,"s":"o","a":5000,"p":8910},
      {"t":587.0,"s":"o","a":5000,"p":11600},{"t":589.4,"s":"o","a":5000,"p":21700},{"t":591.8,"s":"o","a":5000,"p":9520},
      {"t":596.6,"s":"o","a":5000,"p":9520},{"t":600.2,"s":"o","a":5000,"p":6410},{"t":603.3,"s":"o","a":5000,"p":32200},
      {"t":607.4,"s":"o","a":5000,"p":6850},{"t":611.0,"s":"o","a":5000,"p":6850},{"t":615.3,"s":"o","a":5000,"p":8340},
      {"t":620.6,"s":"o","a":5200,"p":11800},{"t":625.4,"s":"o","a":5200,"p":6850},{"t":629.0,"s":"o","a":5300,"p":22900},
      {"t":632.1,"s":"o","a":5300,"p":19700},{"t":634.5,"s":"o","a":5300,"p":52800},{"t":637.4,"s":"o","a":5300,"p":10200},
      {"t":643.9,"s":"o","a":5300,"p":17600},{"t":647.0,"s":"o","a":5300,"p":6410},{"t":653.0,"s":"o","a":5400,"p":9520},
      {"t":655.4,"s":"o","a":5400,"p":8340},{"t":658.3,"s":"o","a":5500,"p":13200},{"t":661.4,"s":"o","a":5600,"p":6850},
      {"t":666.2,"s":"o","a":5800,"p":11600},{"t":669.8,"s":"o","a":6000,"p":15100},{"t":672.2,"s":"o","a":6000,"p":15600},
      {"t":675.1,"s":"o","a":6200,"p":19700},{"t":679.4,"s":"o","a":6000,"p":6630},{"t":685.4,"s":"o","a":5800,"p":6850},
      {"t":692.6,"s":"o","a":5800,"p":7220},{"t":697.4,"s":"o","a":5300,"p":6000},{"t":708.7,"s":"o","a":4800,"p":9090},
      {"t":711.8,"s":"o","a":4800,"p":7080},{"t":623.0,"s":"o","a":5300,"p":3660},
      {"t":44.9,"s":"r","a":3900,"p":3320},{"t":65.5,"s":"r","a":3800,"p":900},{"t":95.8,"s":"r","a":3800,"p":1340},
      {"t":114.5,"s":"r","a":3700,"p":3320},{"t":152.9,"s":"r","a":3650,"p":3320},{"t":162.5,"s":"r","a":3750,"p":4770},
      {"t":181.2,"s":"r","a":3700,"p":900},{"t":196.1,"s":"r","a":3700,"p":900},{"t":211.2,"s":"r","a":3700,"p":1030},
      {"t":236.9,"s":"r","a":3650,"p":3430},{"t":242.9,"s":"r","a":3650,"p":3320},{"t":254.2,"s":"r","a":3650,"p":3100},
      {"t":346.4,"s":"r","a":3600,"p":2120},{"t":581.7,"s":"r","a":3500,"p":900},{"t":597.1,"s":"r","a":3400,"p":900},
      {"t":672.2,"s":"r","a":3700,"p":900},{"t":687.0,"s":"r","a":3700,"p":1630},{"t":702.2,"s":"r","a":3500,"p":1980},
      {"t":712.3,"s":"r","a":3500,"p":1960}
    ],
    "sm1": [
      {"t":-0.2,"g":1,"s":"b","v":18400},{"t":1.2,"g":1,"s":"b","v":47800},{"t":2.9,"g":1,"s":"b","v":47800},{"t":5.3,"g":1,"s":"b","v":44800},
      {"t":8.9,"g":1,"s":"b","v":43900},{"t":13.7,"g":1,"s":"b","v":44800},{"t":15.1,"g":1,"s":"b","v":44800},{"t":15.6,"g":1,"s":"b","v":64300},
      {"t":16.3,"g":1,"s":"b","v":44800},{"t":25.7,"g":1,"s":"b","v":44800},{"t":26.4,"g":1,"s":"b","v":81000},{"t":27.1,"g":1,"s":"b","v":44800},
      {"t":32.9,"g":1,"s":"b","v":45400},{"t":37.2,"g":1,"s":"b","v":46300},{"t":37.9,"g":1,"s":"b","v":71000},{"t":38.6,"g":1,"s":"b","v":46300},
      {"t":42.5,"g":1,"s":"b","v":45400},{"t":47.8,"g":1,"s":"b","v":46300},{"t":48.5,"g":1,"s":"b","v":78400},{"t":49.2,"g":1,"s":"b","v":46300},
      {"t":53.8,"g":1,"s":"b","v":46300},{"t":54.5,"g":1,"s":"b","v":62200},{"t":55.2,"g":1,"s":"b","v":46300},{"t":59.0,"g":1,"s":"b","v":46300},
      {"t":59.8,"g":1,"s":"b","v":58300},{"t":60.5,"g":1,"s":"b","v":45700},{"t":65.3,"g":1,"s":"b","v":45400},{"t":66.0,"g":1,"s":"b","v":68700},
      {"t":66.7,"g":1,"s":"b","v":44800},{"t":70.1,"g":1,"s":"b","v":43900},
      {"t":89.8,"g":2,"s":"b","v":22400},{"t":90.5,"g":2,"s":"b","v":43300},{"t":91.7,"g":2,"s":"b","v":47800},{"t":92.9,"g":2,"s":"b","v":43300},
      {"t":100.1,"g":2,"s":"b","v":41900},{"t":104.9,"g":2,"s":"b","v":43300},{"t":109.7,"g":2,"s":"b","v":40600},{"t":114.5,"g":2,"s":"b","v":41900},
      {"t":119.3,"g":2,"s":"b","v":40600},{"t":125.3,"g":2,"s":"b","v":41900},{"t":128.9,"g":2,"s":"b","v":40600},{"t":136.1,"g":2,"s":"b","v":41100},
      {"t":140.9,"g":2,"s":"b","v":38000},{"t":145.7,"g":2,"s":"b","v":36000},{"t":152.9,"g":2,"s":"b","v":34800},{"t":157.7,"g":2,"s":"b","v":35600},
      {"t":160.6,"g":2,"s":"b","v":35600},{"t":161.3,"g":2,"s":"b","v":44800},{"t":162.0,"g":2,"s":"b","v":35600},{"t":167.3,"g":2,"s":"b","v":36700},
      {"t":170.9,"g":2,"s":"b","v":35600},{"t":174.5,"g":2,"s":"b","v":38000},{"t":176.9,"g":2,"s":"b","v":43300},{"t":180.5,"g":2,"s":"b","v":53500},
      {"t":182.9,"g":2,"s":"b","v":56400},{"t":185.3,"g":2,"s":"b","v":52800},{"t":187.7,"g":2,"s":"b","v":40600},{"t":190.1,"g":2,"s":"b","v":35100},
      {"t":196.1,"g":2,"s":"b","v":34400},{"t":202.1,"g":2,"s":"b","v":33300},{"t":202.8,"g":2,"s":"b","v":43300},{"t":203.5,"g":2,"s":"b","v":33300},
      {"t":210.5,"g":2,"s":"b","v":33300},{"t":217.0,"g":2,"s":"b","v":33300},{"t":217.7,"g":2,"s":"b","v":57100},{"t":218.4,"g":2,"s":"b","v":33300},
      {"t":224.9,"g":2,"s":"b","v":34400},{"t":229.4,"g":2,"s":"b","v":33300},{"t":230.2,"g":2,"s":"b","v":51100},{"t":230.9,"g":2,"s":"b","v":33300},
      {"t":236.9,"g":2,"s":"b","v":34400},{"t":240.5,"g":2,"s":"b","v":34000},{"t":241.2,"g":2,"s":"b","v":39200},{"t":241.9,"g":2,"s":"b","v":33700},
      {"t":248.9,"g":2,"s":"b","v":34000},{"t":254.9,"g":2,"s":"b","v":36700},{"t":257.3,"g":2,"s":"b","v":33300},{"t":263.3,"g":2,"s":"b","v":33300},
      {"t":270.5,"g":2,"s":"b","v":35600},
      {"t":278.7,"g":3,"s":"b","v":36700},{"t":282.3,"g":3,"s":"b","v":34400},{"t":287.1,"g":3,"s":"b","v":35600},{"t":291.9,"g":3,"s":"b","v":36700},
      {"t":296.7,"g":3,"s":"b","v":34400},{"t":303.9,"g":3,"s":"b","v":33300},{"t":311.1,"g":3,"s":"b","v":34400},{"t":318.3,"g":3,"s":"b","v":33300},
      {"t":326.0,"g":3,"s":"b","v":34400},{"t":326.7,"g":3,"s":"b","v":49400},{"t":327.4,"g":3,"s":"b","v":33700},{"t":332.7,"g":3,"s":"b","v":33300},
      {"t":338.7,"g":3,"s":"b","v":35100},{"t":342.3,"g":3,"s":"b","v":33300},{"t":347.1,"g":3,"s":"b","v":31200},{"t":350.7,"g":3,"s":"b","v":30700},
      {"t":369.9,"g":4,"s":"b","v":32200},{"t":371.1,"g":4,"s":"b","v":58300},{"t":372.3,"g":4,"s":"b","v":33300},{"t":375.9,"g":4,"s":"b","v":32200},
      {"t":380.7,"g":4,"s":"b","v":31200},{"t":387.9,"g":4,"s":"b","v":31600},{"t":392.7,"g":4,"s":"b","v":33300},{"t":397.5,"g":4,"s":"b","v":31600},
      {"t":404.7,"g":4,"s":"b","v":34400},{"t":411.9,"g":4,"s":"b","v":35600},{"t":416.7,"g":4,"s":"b","v":39200},{"t":421.5,"g":4,"s":"b","v":43300},
      {"t":426.3,"g":4,"s":"b","v":41900},{"t":431.6,"g":4,"s":"b","v":43300},{"t":433.5,"g":4,"s":"b","v":62200},{"t":435.9,"g":4,"s":"b","v":62200},
      {"t":438.8,"g":4,"s":"b","v":64300},{"t":441.2,"g":4,"s":"b","v":58300},{"t":445.5,"g":4,"s":"b","v":52100},{"t":450.3,"g":4,"s":"b","v":44800},
      {"t":458.7,"g":5,"s":"b","v":43300},{"t":459.9,"g":5,"s":"b","v":41900},{"t":462.3,"g":5,"s":"b","v":33300},{"t":464.7,"g":5,"s":"b","v":35600},
      {"t":467.1,"g":5,"s":"b","v":33300},{"t":470.0,"g":5,"s":"b","v":33300},{"t":470.7,"g":5,"s":"b","v":41900},{"t":471.4,"g":5,"s":"b","v":34400},
      {"t":475.5,"g":5,"s":"b","v":35600},{"t":479.3,"g":5,"s":"b","v":35600},{"t":480.1,"g":5,"s":"b","v":64300},{"t":480.8,"g":5,"s":"b","v":35600},
      {"t":486.3,"g":5,"s":"b","v":34400},{"t":493.5,"g":5,"s":"b","v":33700},{"t":498.3,"g":5,"s":"b","v":38000},{"t":505.5,"g":5,"s":"b","v":36700},
      {"t":510.3,"g":5,"s":"b","v":38000},{"t":511.5,"g":5,"s":"b","v":41900},{"t":512.7,"g":5,"s":"b","v":36700},{"t":519.9,"g":5,"s":"b","v":38000},
      {"t":523.5,"g":5,"s":"b","v":38000},{"t":524.2,"g":5,"s":"b","v":77300},{"t":524.9,"g":5,"s":"b","v":40600},{"t":529.5,"g":5,"s":"b","v":43300},
      {"t":533.1,"g":5,"s":"b","v":46300},{"t":533.8,"g":5,"s":"b","v":83700},{"t":534.5,"g":5,"s":"b","v":47800},{"t":537.9,"g":5,"s":"b","v":52800},
      {"t":541.5,"g":5,"s":"b","v":64300},{"t":545.1,"g":5,"s":"b","v":83700},{"t":547.5,"g":5,"s":"b","v":92400},{"t":550.6,"g":5,"s":"b","v":90600},
      {"t":570.2,"g":6,"s":"b","v":92400},{"t":571.4,"g":6,"s":"b","v":64300},{"t":572.6,"g":6,"s":"b","v":47800},{"t":575.0,"g":6,"s":"b","v":41900},
      {"t":577.4,"g":6,"s":"b","v":40600},{"t":582.2,"g":6,"s":"b","v":43900},{"t":587.0,"g":6,"s":"b","v":41900},{"t":591.8,"g":6,"s":"b","v":40600},
      {"t":596.6,"g":6,"s":"b","v":39200},{"t":603.8,"g":6,"s":"b","v":40600},{"t":608.6,"g":6,"s":"b","v":36700},{"t":613.4,"g":6,"s":"b","v":38000},
      {"t":618.9,"g":6,"s":"b","v":40600},{"t":619.9,"g":6,"s":"b","v":68700},{"t":620.8,"g":6,"s":"b","v":40600},{"t":625.4,"g":6,"s":"b","v":40600},
      {"t":631.2,"g":6,"s":"b","v":44800},{"t":632.1,"g":6,"s":"b","v":78400},{"t":633.1,"g":6,"s":"b","v":43300},{"t":637.4,"g":6,"s":"b","v":41900},
      {"t":642.7,"g":6,"s":"b","v":43300},{"t":643.4,"g":6,"s":"b","v":62200},{"t":644.1,"g":6,"s":"b","v":46300},{"t":648.2,"g":6,"s":"b","v":51100},
      {"t":651.8,"g":6,"s":"b","v":58300},{"t":655.4,"g":6,"s":"b","v":60200},{"t":659.0,"g":6,"s":"b","v":54600},{"t":663.8,"g":6,"s":"b","v":47800},
      {"t":668.6,"g":6,"s":"b","v":44800},{"t":675.8,"g":6,"s":"b","v":44800},{"t":683.0,"g":6,"s":"b","v":47800},{"t":690.2,"g":6,"s":"b","v":49400},
      {"t":697.4,"g":6,"s":"b","v":46300},{"t":703.4,"g":6,"s":"b","v":44800},{"t":707.0,"g":6,"s":"b","v":46300},{"t":708.2,"g":6,"s":"b","v":62200},
      {"t":709.4,"g":6,"s":"b","v":47800},{"t":711.3,"g":6,"s":"b","v":47800},{"t":712.3,"g":6,"s":"b","v":58300},{"t":713.7,"g":6,"s":"b","v":47800},
      {"t":716.1,"g":6,"s":"b","v":39200},{"t":718.5,"g":6,"s":"b","v":35600},
      {"t":-0.3,"g":1,"s":"o","v":4610},{"t":1.2,"g":1,"s":"o","v":7810},{"t":2.9,"g":1,"s":"o","v":7560},{"t":6.5,"g":1,"s":"o","v":6410},
      {"t":11.3,"g":1,"s":"o","v":6120},{"t":18.5,"g":1,"s":"o","v":6410},{"t":23.3,"g":1,"s":"o","v":6630},{"t":32.9,"g":1,"s":"o","v":6500},
      {"t":39.0,"g":1,"s":"o","v":6500},{"t":39.6,"g":1,"s":"o","v":7700},{"t":40.5,"g":1,"s":"o","v":6850},{"t":42.5,"g":1,"s":"o","v":6710},
      {"t":49.4,"g":1,"s":"o","v":6200},{"t":56.6,"g":1,"s":"o","v":6000},{"t":70.1,"g":1,"s":"o","v":5690},
      {"t":89.8,"g":2,"s":"o","v":4610},{"t":90.5,"g":2,"s":"o","v":6000},{"t":91.7,"g":2,"s":"o","v":6630},{"t":92.9,"g":2,"s":"o","v":5440},
      {"t":100.0,"g":2,"s":"o","v":5330},{"t":124.0,"g":2,"s":"o","v":5260},{"t":140.0,"g":2,"s":"o","v":5330},{"t":145.5,"g":2,"s":"o","v":5440},
      {"t":146.3,"g":2,"s":"o","v":8070},{"t":147.2,"g":2,"s":"o","v":5440},{"t":160.0,"g":2,"s":"o","v":5260},{"t":190.0,"g":2,"s":"o","v":5190},
      {"t":215.0,"g":2,"s":"o","v":5160},{"t":235.0,"g":2,"s":"o","v":4990},{"t":250.0,"g":2,"s":"o","v":4830},{"t":270.5,"g":2,"s":"o","v":4990},
      {"t":278.7,"g":3,"s":"o","v":5260},{"t":282.3,"g":3,"s":"o","v":5090},{"t":291.9,"g":3,"s":"o","v":5020},{"t":302.7,"g":3,"s":"o","v":4920},
      {"t":305.1,"g":3,"s":"o","v":5810},{"t":306.3,"g":3,"s":"o","v":15600},{"t":307.3,"g":3,"s":"o","v":5810},{"t":308.7,"g":3,"s":"o","v":6540},
      {"t":309.9,"g":3,"s":"o","v":4920},{"t":315.9,"g":3,"s":"o","v":4920},{"t":327.9,"g":3,"s":"o","v":4990},{"t":337.5,"g":3,"s":"o","v":5160},
      {"t":339.9,"g":3,"s":"o","v":4860},{"t":350.7,"g":3,"s":"o","v":4860},
      {"t":369.9,"g":4,"s":"o","v":4920},{"t":371.1,"g":4,"s":"o","v":6000},{"t":372.3,"g":4,"s":"o","v":5090},{"t":378.3,"g":4,"s":"o","v":4920},
      {"t":383.1,"g":4,"s":"o","v":4920},{"t":383.6,"g":4,"s":"o","v":11200},{"t":384.5,"g":4,"s":"o","v":5330},{"t":387.9,"g":4,"s":"o","v":4920},
      {"t":391.5,"g":4,"s":"o","v":5390},{"t":392.7,"g":4,"s":"o","v":4860},{"t":402.3,"g":4,"s":"o","v":4770},{"t":411.9,"g":4,"s":"o","v":4770},
      {"t":416.7,"g":4,"s":"o","v":4550},{"t":423.9,"g":4,"s":"o","v":4610},{"t":431.1,"g":4,"s":"o","v":4990},{"t":432.3,"g":4,"s":"o","v":5330},
      {"t":433.5,"g":4,"s":"o","v":4610},{"t":440.7,"g":4,"s":"o","v":4550},{"t":450.3,"g":4,"s":"o","v":4460},
      {"t":458.6,"g":5,"s":"o","v":4600},{"t":459.4,"g":5,"s":"o","v":6580},{"t":461.1,"g":5,"s":"o","v":5260},{"t":463.5,"g":5,"s":"o","v":5810},
      {"t":464.7,"g":5,"s":"o","v":4770},{"t":471.9,"g":5,"s":"o","v":4670},{"t":483.9,"g":5,"s":"o","v":4770},{"t":493.5,"g":5,"s":"o","v":4460},
      {"t":498.3,"g":5,"s":"o","v":4670},{"t":505.5,"g":5,"s":"o","v":4670},{"t":506.5,"g":5,"s":"o","v":5550},{"t":507.4,"g":5,"s":"o","v":4670},
      {"t":517.5,"g":5,"s":"o","v":4670},{"t":522.3,"g":5,"s":"o","v":5550},{"t":523.5,"g":5,"s":"o","v":4770},{"t":529.5,"g":5,"s":"o","v":4920},
      {"t":534.3,"g":5,"s":"o","v":5090},{"t":536.7,"g":5,"s":"o","v":6000},{"t":539.1,"g":5,"s":"o","v":6200},{"t":541.5,"g":5,"s":"o","v":5090},
      {"t":545.1,"g":5,"s":"o","v":5260},{"t":546.3,"g":5,"s":"o","v":6330},{"t":547.5,"g":5,"s":"o","v":4920},{"t":550.6,"g":5,"s":"o","v":4670},
      {"t":569.7,"g":6,"s":"o","v":4610},{"t":571.4,"g":6,"s":"o","v":5620},{"t":572.6,"g":6,"s":"o","v":4770},{"t":579.8,"g":6,"s":"o","v":4920},
      {"t":585.8,"g":6,"s":"o","v":5090},{"t":588.8,"g":6,"s":"o","v":5090},{"t":589.4,"g":6,"s":"o","v":6410},{"t":590.6,"g":6,"s":"o","v":5260},
      {"t":596.6,"g":6,"s":"o","v":4770},{"t":602.6,"g":6,"s":"o","v":4770},{"t":603.3,"g":6,"s":"o","v":5620},{"t":605.0,"g":6,"s":"o","v":4920},
      {"t":613.4,"g":6,"s":"o","v":5090},{"t":618.2,"g":6,"s":"o","v":5620},{"t":623.0,"g":6,"s":"o","v":5260},{"t":629.0,"g":6,"s":"o","v":6410},
      {"t":630.7,"g":6,"s":"o","v":5260},{"t":633.8,"g":6,"s":"o","v":6000},{"t":634.5,"g":6,"s":"o","v":8620},{"t":636.2,"g":6,"s":"o","v":6000},
      {"t":638.6,"g":6,"s":"o","v":5260},{"t":643.4,"g":6,"s":"o","v":6000},{"t":644.6,"g":6,"s":"o","v":5260},{"t":651.8,"g":6,"s":"o","v":5330},
      {"t":661.4,"g":6,"s":"o","v":5620},{"t":666.2,"g":6,"s":"o","v":6000},{"t":671.0,"g":6,"s":"o","v":6410},{"t":675.8,"g":6,"s":"o","v":6850},
      {"t":680.6,"g":6,"s":"o","v":6200},{"t":685.4,"g":6,"s":"o","v":6000},{"t":692.6,"g":6,"s":"o","v":6330},{"t":699.8,"g":6,"s":"o","v":4920},
      {"t":707.0,"g":6,"s":"o","v":4610},{"t":710.6,"g":6,"s":"o","v":5810},{"t":713.0,"g":6,"s":"o","v":4920},{"t":716.1,"g":6,"s":"o","v":3780},
      {"t":718.5,"g":6,"s":"o","v":3320},
      {"t":-0.3,"g":1,"s":"r","v":3320},{"t":0.5,"g":1,"s":"r","v":3430},{"t":1.7,"g":1,"s":"r","v":4770},{"t":4.1,"g":1,"s":"r","v":4180},
      {"t":8.9,"g":1,"s":"r","v":3990},{"t":23.3,"g":1,"s":"r","v":4040},{"t":37.7,"g":1,"s":"r","v":3990},{"t":56.9,"g":1,"s":"r","v":3860},
      {"t":70.1,"g":1,"s":"r","v":3780},
      {"t":89.8,"g":2,"s":"r","v":3660},{"t":91.0,"g":2,"s":"r","v":4610},{"t":92.3,"g":2,"s":"r","v":3910},{"t":104.9,"g":2,"s":"r","v":3830},
      {"t":128.9,"g":2,"s":"r","v":3890},{"t":152.9,"g":2,"s":"r","v":3730},{"t":200.0,"g":2,"s":"r","v":3730},{"t":240.0,"g":2,"s":"r","v":3780},
      {"t":270.5,"g":2,"s":"r","v":3860},
      {"t":278.7,"g":3,"s":"r","v":4610},{"t":281.0,"g":3,"s":"r","v":3910},{"t":291.9,"g":3,"s":"r","v":3780},{"t":315.9,"g":3,"s":"r","v":3660},
      {"t":350.7,"g":3,"s":"r","v":3710},
      {"t":369.9,"g":4,"s":"r","v":3660},{"t":371.1,"g":4,"s":"r","v":4610},{"t":372.3,"g":4,"s":"r","v":3780},{"t":387.9,"g":4,"s":"r","v":3660},
      {"t":411.9,"g":4,"s":"r","v":3430},{"t":421.5,"g":4,"s":"r","v":3320},{"t":431.1,"g":4,"s":"r","v":3360},{"t":440.7,"g":4,"s":"r","v":3270},
      {"t":450.3,"g":4,"s":"r","v":3210},
      {"t":458.6,"g":5,"s":"r","v":4180},{"t":459.9,"g":5,"s":"r","v":3540},{"t":467.1,"g":5,"s":"r","v":3430},{"t":483.9,"g":5,"s":"r","v":3360},
      {"t":493.5,"g":5,"s":"r","v":3210},{"t":507.9,"g":5,"s":"r","v":3320},{"t":531.9,"g":5,"s":"r","v":3360},{"t":550.6,"g":5,"s":"r","v":3320},
      {"t":569.7,"g":6,"s":"r","v":3320},{"t":570.7,"g":6,"s":"r","v":4040},{"t":572.1,"g":6,"s":"r","v":3540},{"t":579.8,"g":6,"s":"r","v":3590},
      {"t":589.4,"g":6,"s":"r","v":3490},{"t":596.6,"g":6,"s":"r","v":3320},{"t":608.6,"g":6,"s":"r","v":3430},{"t":613.4,"g":6,"s":"r","v":3320},
      {"t":625.4,"g":6,"s":"r","v":3430},{"t":637.4,"g":6,"s":"r","v":3470},{"t":651.8,"g":6,"s":"r","v":3540},{"t":666.2,"g":6,"s":"r","v":3730},
      {"t":675.8,"g":6,"s":"r","v":3830},{"t":685.4,"g":6,"s":"r","v":3710},{"t":692.6,"g":6,"s":"r","v":3780},{"t":699.8,"g":6,"s":"r","v":3470},
      {"t":709.4,"g":6,"s":"r","v":3430},{"t":712.3,"g":6,"s":"r","v":3660},{"t":714.2,"g":6,"s":"r","v":3210},{"t":718.5,"g":6,"s":"r","v":2720}
    ],
    "sm2": [
      {"t":-0.2,"g":1,"s":"b","v":18400},{"t":1.2,"g":1,"s":"b","v":32900},{"t":4.1,"g":1,"s":"b","v":46900},{"t":6.5,"g":1,"s":"b","v":43900},
      {"t":11.3,"g":1,"s":"b","v":43100},{"t":14.9,"g":1,"s":"b","v":43900},{"t":16.1,"g":1,"s":"b","v":51800},{"t":19.7,"g":1,"s":"b","v":51100},
      {"t":20.9,"g":1,"s":"b","v":44800},{"t":25.7,"g":1,"s":"b","v":44800},{"t":26.9,"g":1,"s":"b","v":55300},{"t":30.5,"g":1,"s":"b","v":54600},
      {"t":31.7,"g":1,"s":"b","v":46900},{"t":37.2,"g":1,"s":"b","v":48400},{"t":38.9,"g":1,"s":"b","v":51800},{"t":42.5,"g":1,"s":"b","v":50100},
      {"t":44.9,"g":1,"s":"b","v":46900},{"t":48.5,"g":1,"s":"b","v":55300},{"t":52.1,"g":1,"s":"b","v":53500},{"t":54.5,"g":1,"s":"b","v":47800},
      {"t":58.1,"g":1,"s":"b","v":50100},{"t":60.5,"g":1,"s":"b","v":46900},{"t":62.9,"g":1,"s":"b","v":49000},{"t":66.0,"g":1,"s":"b","v":51800},
      {"t":68.4,"g":1,"s":"b","v":51100},{"t":70.1,"g":1,"s":"b","v":43900},
      {"t":89.8,"g":2,"s":"b","v":42000},{"t":92.9,"g":2,"s":"b","v":42500},{"t":104.9,"g":2,"s":"b","v":42500},{"t":109.7,"g":2,"s":"b","v":43900},
      {"t":121.7,"g":2,"s":"b","v":41100},{"t":128.9,"g":2,"s":"b","v":40300},{"t":136.1,"g":2,"s":"b","v":41100},{"t":139.7,"g":2,"s":"b","v":37200},
      {"t":145.7,"g":2,"s":"b","v":35300},{"t":152.9,"g":2,"s":"b","v":34400},{"t":160.1,"g":2,"s":"b","v":36000},{"t":162.5,"g":2,"s":"b","v":39200},
      {"t":166.1,"g":2,"s":"b","v":37200},{"t":170.9,"g":2,"s":"b","v":34400},{"t":176.9,"g":2,"s":"b","v":41100},{"t":181.7,"g":2,"s":"b","v":54200},
      {"t":185.3,"g":2,"s":"b","v":48400},{"t":188.9,"g":2,"s":"b","v":37200},{"t":192.5,"g":2,"s":"b","v":33700},{"t":200.9,"g":2,"s":"b","v":32500},
      {"t":203.3,"g":2,"s":"b","v":35300},{"t":205.7,"g":2,"s":"b","v":32200},{"t":216.5,"g":2,"s":"b","v":32200},{"t":218.2,"g":2,"s":"b","v":39000},
      {"t":221.3,"g":2,"s":"b","v":38500},{"t":222.5,"g":2,"s":"b","v":32200},{"t":228.5,"g":2,"s":"b","v":32200},{"t":230.2,"g":2,"s":"b","v":38500},
      {"t":232.6,"g":2,"s":"b","v":38000},{"t":234.1,"g":2,"s":"b","v":33100},{"t":241.7,"g":2,"s":"b","v":34800},{"t":248.9,"g":2,"s":"b","v":34400},
      {"t":256.1,"g":2,"s":"b","v":34800},{"t":263.3,"g":2,"s":"b","v":33100},{"t":270.5,"g":2,"s":"b","v":33700},
      {"t":278.7,"g":3,"s":"b","v":34800},{"t":282.3,"g":3,"s":"b","v":34400},{"t":291.9,"g":3,"s":"b","v":37200},{"t":299.1,"g":3,"s":"b","v":34800},
      {"t":315.9,"g":3,"s":"b","v":34400},{"t":325.5,"g":3,"s":"b","v":33700},{"t":326.7,"g":3,"s":"b","v":36700},{"t":329.1,"g":3,"s":"b","v":36700},
      {"t":330.3,"g":3,"s":"b","v":32500},{"t":338.7,"g":3,"s":"b","v":34800},{"t":349.5,"g":3,"s":"b","v":31600},{"t":350.7,"g":3,"s":"b","v":31200},
      {"t":369.9,"g":4,"s":"b","v":30500},{"t":371.1,"g":4,"s":"b","v":37700},{"t":374.0,"g":4,"s":"b","v":37700},{"t":375.2,"g":4,"s":"b","v":30900},
      {"t":387.9,"g":4,"s":"b","v":32200},{"t":397.5,"g":4,"s":"b","v":32200},{"t":407.1,"g":4,"s":"b","v":34400},{"t":411.9,"g":4,"s":"b","v":37200},
      {"t":416.7,"g":4,"s":"b","v":41100},{"t":421.5,"g":4,"s":"b","v":43900},{"t":426.3,"g":4,"s":"b","v":41700},{"t":432.3,"g":4,"s":"b","v":45400},
      {"t":435.9,"g":4,"s":"b","v":61000},{"t":439.5,"g":4,"s":"b","v":62200},{"t":443.1,"g":4,"s":"b","v":59000},{"t":446.7,"g":4,"s":"b","v":53500},
      {"t":450.3,"g":4,"s":"b","v":46900},
      {"t":458.7,"g":5,"s":"b","v":48400},{"t":461.1,"g":5,"s":"b","v":41100},{"t":463.5,"g":5,"s":"b","v":35600},{"t":467.1,"g":5,"s":"b","v":37200},
      {"t":474.3,"g":5,"s":"b","v":37200},{"t":477.9,"g":5,"s":"b","v":36700},{"t":479.1,"g":5,"s":"b","v":43900},{"t":481.9,"g":5,"s":"b","v":43100},
      {"t":483.1,"g":5,"s":"b","v":34800},{"t":488.7,"g":5,"s":"b","v":34400},{"t":495.9,"g":5,"s":"b","v":34200},{"t":500.7,"g":5,"s":"b","v":36000},
      {"t":507.9,"g":5,"s":"b","v":37200},{"t":519.9,"g":5,"s":"b","v":37700},{"t":522.8,"g":5,"s":"b","v":38500},{"t":525.2,"g":5,"s":"b","v":51100},
      {"t":527.1,"g":5,"s":"b","v":50100},{"t":528.3,"g":5,"s":"b","v":40300},{"t":531.9,"g":5,"s":"b","v":42500},{"t":534.3,"g":5,"s":"b","v":55300},
      {"t":536.7,"g":5,"s":"b","v":53500},{"t":537.9,"g":5,"s":"b","v":46900},{"t":541.5,"g":5,"s":"b","v":59000},{"t":546.3,"g":5,"s":"b","v":79400},
      {"t":550.6,"g":5,"s":"b","v":93600},
      {"t":570.2,"g":6,"s":"b","v":93600},{"t":572.6,"g":6,"s":"b","v":63100},{"t":575.0,"g":6,"s":"b","v":43900},{"t":577.4,"g":6,"s":"b","v":41100},
      {"t":582.2,"g":6,"s":"b","v":43100},{"t":589.4,"g":6,"s":"b","v":41100},{"t":596.6,"g":6,"s":"b","v":39000},{"t":603.8,"g":6,"s":"b","v":39800},
      {"t":611.0,"g":6,"s":"b","v":36500},{"t":615.8,"g":6,"s":"b","v":39200},{"t":619.4,"g":6,"s":"b","v":39800},{"t":621.1,"g":6,"s":"b","v":47800},
      {"t":623.0,"g":6,"s":"b","v":46900},{"t":624.2,"g":6,"s":"b","v":39000},{"t":630.2,"g":6,"s":"b","v":39000},{"t":632.1,"g":6,"s":"b","v":51100},
      {"t":633.8,"g":6,"s":"b","v":51800},{"t":635.0,"g":6,"s":"b","v":39200},{"t":642.2,"g":6,"s":"b","v":41100},{"t":644.6,"g":6,"s":"b","v":46900},
      {"t":647.0,"g":6,"s":"b","v":46000},{"t":650.6,"g":6,"s":"b","v":53500},{"t":655.4,"g":6,"s":"b","v":61000},{"t":660.2,"g":6,"s":"b","v":55300},
      {"t":666.2,"g":6,"s":"b","v":45400},{"t":671.0,"g":6,"s":"b","v":46000},{"t":680.6,"g":6,"s":"b","v":46900},{"t":692.6,"g":6,"s":"b","v":50100},
      {"t":699.8,"g":6,"s":"b","v":46900},{"t":707.0,"g":6,"s":"b","v":43900},{"t":709.4,"g":6,"s":"b","v":53500},{"t":712.3,"g":6,"s":"b","v":50100},
      {"t":715.4,"g":6,"s":"b","v":42500},{"t":718.5,"g":6,"s":"b","v":37700},
      {"t":-0.3,"g":1,"s":"o","v":4520},{"t":1.7,"g":1,"s":"o","v":6500},{"t":5.3,"g":1,"s":"o","v":7410},{"t":8.9,"g":1,"s":"o","v":6200},
      {"t":18.5,"g":1,"s":"o","v":6500},{"t":25.7,"g":1,"s":"o","v":6710},{"t":40.1,"g":1,"s":"o","v":6710},{"t":42.5,"g":1,"s":"o","v":6370},
      {"t":49.7,"g":1,"s":"o","v":6080},{"t":70.1,"g":1,"s":"o","v":5580},
      {"t":89.8,"g":2,"s":"o","v":5580},{"t":92.9,"g":2,"s":"o","v":5770},{"t":104.9,"g":2,"s":"o","v":5510},{"t":119.3,"g":2,"s":"o","v":5400},
      {"t":128.9,"g":2,"s":"o","v":5440},{"t":143.3,"g":2,"s":"o","v":5510},{"t":146.2,"g":2,"s":"o","v":6160},{"t":149.3,"g":2,"s":"o","v":6080},
      {"t":150.5,"g":2,"s":"o","v":5400},{"t":165.0,"g":2,"s":"o","v":5330},{"t":188.9,"g":2,"s":"o","v":5260},{"t":212.9,"g":2,"s":"o","v":5160},
      {"t":224.9,"g":2,"s":"o","v":5160},{"t":234.5,"g":2,"s":"o","v":5400},{"t":239.3,"g":2,"s":"o","v":4990},{"t":248.9,"g":2,"s":"o","v":4920},
      {"t":270.5,"g":2,"s":"o","v":4990},
      {"t":278.7,"g":3,"s":"o","v":5160},{"t":291.9,"g":3,"s":"o","v":4990},{"t":303.9,"g":3,"s":"o","v":4920},{"t":305.6,"g":3,"s":"o","v":4920},
      {"t":306.3,"g":3,"s":"o","v":7810},{"t":309.2,"g":3,"s":"o","v":7810},{"t":310.6,"g":3,"s":"o","v":5160},{"t":315.9,"g":3,"s":"o","v":4920},
      {"t":339.9,"g":3,"s":"o","v":4890},{"t":350.7,"g":3,"s":"o","v":4960},
      {"t":369.9,"g":4,"s":"o","v":4890},{"t":371.1,"g":4,"s":"o","v":5230},{"t":373.5,"g":4,"s":"o","v":5160},{"t":380.7,"g":4,"s":"o","v":4990},
      {"t":383.1,"g":4,"s":"o","v":5160},{"t":383.8,"g":4,"s":"o","v":6630},{"t":386.2,"g":4,"s":"o","v":6630},{"t":387.2,"g":4,"s":"o","v":5160},
      {"t":392.7,"g":4,"s":"o","v":4920},{"t":402.3,"g":4,"s":"o","v":4770},{"t":416.7,"g":4,"s":"o","v":4670},{"t":431.1,"g":4,"s":"o","v":4770},
      {"t":433.5,"g":4,"s":"o","v":4890},{"t":440.7,"g":4,"s":"o","v":4580},{"t":450.3,"g":4,"s":"o","v":4580},
      {"t":458.7,"g":5,"s":"o","v":5160},{"t":461.1,"g":5,"s":"o","v":5330},{"t":462.3,"g":5,"s":"o","v":5090},{"t":465.9,"g":5,"s":"o","v":4770},
      {"t":483.9,"g":5,"s":"o","v":4770},{"t":498.3,"g":5,"s":"o","v":4580},{"t":507.9,"g":5,"s":"o","v":4830},{"t":522.3,"g":5,"s":"o","v":4770},
      {"t":525.9,"g":5,"s":"o","v":4990},{"t":531.9,"g":5,"s":"o","v":4960},{"t":539.1,"g":5,"s":"o","v":5440},{"t":543.9,"g":5,"s":"o","v":4990},
      {"t":547.5,"g":5,"s":"o","v":4890},{"t":550.6,"g":5,"s":"o","v":4670},
      {"t":569.7,"g":6,"s":"o","v":4580},{"t":571.4,"g":6,"s":"o","v":4990},{"t":575.0,"g":6,"s":"o","v":4890},{"t":584.6,"g":6,"s":"o","v":5160},
      {"t":590.6,"g":6,"s":"o","v":5580},{"t":593.0,"g":6,"s":"o","v":4990},{"t":599.0,"g":6,"s":"o","v":4920},{"t":604.3,"g":6,"s":"o","v":5440},
      {"t":609.8,"g":6,"s":"o","v":4990},{"t":618.2,"g":6,"s":"o","v":5160},{"t":629.0,"g":6,"s":"o","v":5510},{"t":630.7,"g":6,"s":"o","v":5960},
      {"t":635.5,"g":6,"s":"o","v":6200},{"t":636.9,"g":6,"s":"o","v":5160},{"t":642.2,"g":6,"s":"o","v":5330},{"t":651.8,"g":6,"s":"o","v":5510},
      {"t":661.4,"g":6,"s":"o","v":5770},{"t":671.0,"g":6,"s":"o","v":6370},{"t":675.8,"g":6,"s":"o","v":6630},{"t":680.6,"g":6,"s":"o","v":6080},
      {"t":692.6,"g":6,"s":"o","v":6200},{"t":699.8,"g":6,"s":"o","v":5160},{"t":707.0,"g":6,"s":"o","v":4990},{"t":712.3,"g":6,"s":"o","v":5330},
      {"t":715.4,"g":6,"s":"o","v":4240},{"t":718.5,"g":6,"s":"o","v":3470},
      {"t":-0.3,"g":1,"s":"r","v":3360},{"t":2.9,"g":1,"s":"r","v":4580},{"t":6.5,"g":1,"s":"r","v":4100},{"t":23.3,"g":1,"s":"r","v":4100},
      {"t":70.1,"g":1,"s":"r","v":3830},
      {"t":89.8,"g":2,"s":"r","v":3760},{"t":92.9,"g":2,"s":"r","v":4010},{"t":96.5,"g":2,"s":"r","v":3830},{"t":128.9,"g":2,"s":"r","v":3830},
      {"t":152.9,"g":2,"s":"r","v":3760},{"t":224.9,"g":2,"s":"r","v":3760},{"t":248.9,"g":2,"s":"r","v":3760},{"t":270.5,"g":2,"s":"r","v":3830},
      {"t":278.7,"g":3,"s":"r","v":3960},{"t":282.3,"g":3,"s":"r","v":3910},{"t":291.9,"g":3,"s":"r","v":3760},{"t":315.9,"g":3,"s":"r","v":3710},
      {"t":350.7,"g":3,"s":"r","v":3710},
      {"t":369.9,"g":4,"s":"r","v":3710},{"t":372.3,"g":4,"s":"r","v":3960},{"t":374.7,"g":4,"s":"r","v":3760},{"t":387.9,"g":4,"s":"r","v":3660},
      {"t":402.3,"g":4,"s":"r","v":3520},{"t":416.7,"g":4,"s":"r","v":3430},{"t":423.9,"g":4,"s":"r","v":3360},{"t":431.1,"g":4,"s":"r","v":3430},
      {"t":435.9,"g":4,"s":"r","v":3320},{"t":450.3,"g":4,"s":"r","v":3250},
      {"t":458.7,"g":5,"s":"r","v":3590},{"t":461.1,"g":5,"s":"r","v":3470},{"t":483.9,"g":5,"s":"r","v":3360},{"t":507.9,"g":5,"s":"r","v":3430},
      {"t":531.9,"g":5,"s":"r","v":3360},{"t":550.6,"g":5,"s":"r","v":3360},
      {"t":569.7,"g":6,"s":"r","v":3360},{"t":572.6,"g":6,"s":"r","v":3660},{"t":582.2,"g":6,"s":"r","v":3470},{"t":596.6,"g":6,"s":"r","v":3360},
      {"t":613.4,"g":6,"s":"r","v":3470},{"t":637.4,"g":6,"s":"r","v":3520},{"t":661.4,"g":6,"s":"r","v":3710},{"t":673.4,"g":6,"s":"r","v":3910},
      {"t":692.6,"g":6,"s":"r","v":3830},{"t":699.8,"g":6,"s":"r","v":3520},{"t":711.8,"g":6,"s":"r","v":3470},{"t":715.4,"g":6,"s":"r","v":3040},
      {"t":718.5,"g":6,"s":"r","v":2790}
    ]
  },
  "vconcat": [
    {
      "width": 1086,
      "height": 315,
      "encoding": {
        "x": {"field": "t", "type": "quantitative", "scale": {"domain": [-30.7, 750.2], "nice": false, "zero": false},
          "axis": {"values": [0, 120, 240, 360, 480, 600, 720], "labelExpr": "['08-08 14','08-08 16','08-08 18','08-08 20','08-08 22','08-09 00','08-09 02'][round(datum.value/120)]", "title": null, "grid": false, "domain": false, "tickSize": 4.9, "tickColor": "black", "labelPadding": 4.9, "labelFontSize": 13.9, "labelFont": "DejaVu Sans", "labelColor": "black", "labelFlush": false, "labelOverlap": false}}
      },
      "layer": [
        {"data": {"name": "band"}, "mark": {"type": "area", "color": "#1f77b4", "stroke": "#1f77b4", "strokeWidth": 1.2, "opacity": 1, "clip": true},
          "encoding": {"y": {"field": "bl", "type": "quantitative", "scale": {"type": "log", "domain": [1000, 501000], "nice": false},
            "axis": {"title": null, "grid": false, "domain": false, "values": [1000,2000,3000,4000,5000,6000,7000,8000,9000,10000,20000,30000,40000,50000,60000,70000,80000,90000,100000,200000,300000,400000,500000],
              "labelExpr": "datum.value==1000?'10³':datum.value==10000?'10⁴':datum.value==100000?'10⁵':''",
              "tickSize": {"condition": {"test": "datum.value==1000||datum.value==10000||datum.value==100000", "value": 4.9}, "value": 2.8},
              "tickColor": "black", "labelPadding": 4.5, "labelFontSize": 13.9, "labelFont": "DejaVu Sans", "labelColor": "black", "labelOverlap": false, "labelFlush": false}},
            "y2": {"field": "bh"}, "detail": {"field": "g", "type": "nominal"}}},
        {"data": {"name": "spk"}, "transform": [{"filter": "datum.s=='b'"}], "mark": {"type": "rule", "color": "#1f77b4", "strokeWidth": 2, "clip": true},
          "encoding": {"y": {"field": "a", "type": "quantitative", "title": null}, "y2": {"field": "p"}}},
        {"data": {"name": "band"}, "mark": {"type": "area", "color": "#ff7f0e", "stroke": "#ff7f0e", "strokeWidth": 1.2, "opacity": 1, "clip": true},
          "encoding": {"y": {"field": "ol", "type": "quantitative", "title": null}, "y2": {"field": "oh"}, "detail": {"field": "g", "type": "nominal"}}},
        {"data": {"name": "spk"}, "transform": [{"filter": "datum.s=='o'"}], "mark": {"type": "rule", "color": "#ff7f0e", "strokeWidth": 2, "clip": true},
          "encoding": {"y": {"field": "a", "type": "quantitative", "title": null}, "y2": {"field": "p"}}},
        {"data": {"name": "band"}, "mark": {"type": "area", "color": "#d62728", "stroke": "#d62728", "strokeWidth": 1.2, "opacity": 1, "clip": true},
          "encoding": {"y": {"field": "rl", "type": "quantitative", "title": null}, "y2": {"field": "rh"}, "detail": {"field": "g", "type": "nominal"}}},
        {"data": {"name": "spk"}, "transform": [{"filter": "datum.s=='r'"}], "mark": {"type": "rule", "color": "#d62728", "strokeWidth": 2, "clip": true},
          "encoding": {"y": {"field": "a", "type": "quantitative", "title": null}, "y2": {"field": "p"}}},
        {"data": {"name": "sm1"}, "mark": {"type": "line", "color": "black", "strokeWidth": 2.6, "clip": true},
          "encoding": {"y": {"field": "v", "type": "quantitative", "title": null}, "detail": [{"field": "g", "type": "nominal"}, {"field": "s", "type": "nominal"}]}}
      ]
    },
    {
      "width": 1086,
      "height": 315,
      "encoding": {
        "x": {"field": "t", "type": "quantitative", "scale": {"domain": [-30.7, 750.2], "nice": false, "zero": false},
          "axis": {"values": [0, 120, 240, 360, 480, 600, 720], "labelExpr": "['08-08 14','08-08 16','08-08 18','08-08 20','08-08 22','08-09 00','08-09 02'][round(datum.value/120)]", "title": null, "grid": false, "domain": false, "tickSize": 4.9, "tickColor": "black", "labelPadding": 4.9, "labelFontSize": 13.9, "labelFont": "DejaVu Sans", "labelColor": "black", "labelFlush": false, "labelOverlap": false}}
      },
      "layer": [
        {"data": {"name": "band"}, "mark": {"type": "area", "color": "#1f77b4", "stroke": "#1f77b4", "strokeWidth": 1.2, "opacity": 1, "clip": true},
          "encoding": {"y": {"field": "bl", "type": "quantitative", "scale": {"type": "log", "domain": [1000, 501000], "nice": false},
            "axis": {"title": null, "grid": false, "domain": false, "values": [1000,2000,3000,4000,5000,6000,7000,8000,9000,10000,20000,30000,40000,50000,60000,70000,80000,90000,100000,200000,300000,400000,500000],
              "labelExpr": "datum.value==1000?'10³':datum.value==10000?'10⁴':datum.value==100000?'10⁵':''",
              "tickSize": {"condition": {"test": "datum.value==1000||datum.value==10000||datum.value==100000", "value": 4.9}, "value": 2.8},
              "tickColor": "black", "labelPadding": 4.5, "labelFontSize": 13.9, "labelFont": "DejaVu Sans", "labelColor": "black", "labelOverlap": false, "labelFlush": false}},
            "y2": {"field": "bh"}, "detail": {"field": "g", "type": "nominal"}}},
        {"data": {"name": "spk"}, "transform": [{"filter": "datum.s=='b'"}], "mark": {"type": "rule", "color": "#1f77b4", "strokeWidth": 2, "clip": true},
          "encoding": {"y": {"field": "a", "type": "quantitative", "title": null}, "y2": {"field": "p"}}},
        {"data": {"name": "band"}, "mark": {"type": "area", "color": "#ff7f0e", "stroke": "#ff7f0e", "strokeWidth": 1.2, "opacity": 1, "clip": true},
          "encoding": {"y": {"field": "ol", "type": "quantitative", "title": null}, "y2": {"field": "oh"}, "detail": {"field": "g", "type": "nominal"}}},
        {"data": {"name": "spk"}, "transform": [{"filter": "datum.s=='o'"}], "mark": {"type": "rule", "color": "#ff7f0e", "strokeWidth": 2, "clip": true},
          "encoding": {"y": {"field": "a", "type": "quantitative", "title": null}, "y2": {"field": "p"}}},
        {"data": {"name": "band"}, "mark": {"type": "area", "color": "#d62728", "stroke": "#d62728", "strokeWidth": 1.2, "opacity": 1, "clip": true},
          "encoding": {"y": {"field": "rl", "type": "quantitative", "title": null}, "y2": {"field": "rh"}, "detail": {"field": "g", "type": "nominal"}}},
        {"data": {"name": "spk"}, "transform": [{"filter": "datum.s=='r'"}], "mark": {"type": "rule", "color": "#d62728", "strokeWidth": 2, "clip": true},
          "encoding": {"y": {"field": "a", "type": "quantitative", "title": null}, "y2": {"field": "p"}}},
        {"data": {"name": "sm2"}, "mark": {"type": "line", "color": "black", "strokeWidth": 2.6, "clip": true},
          "encoding": {"y": {"field": "v", "type": "quantitative", "title": null}, "detail": [{"field": "g", "type": "nominal"}, {"field": "s", "type": "nominal"}]}}
      ]
    }
  ]
}
